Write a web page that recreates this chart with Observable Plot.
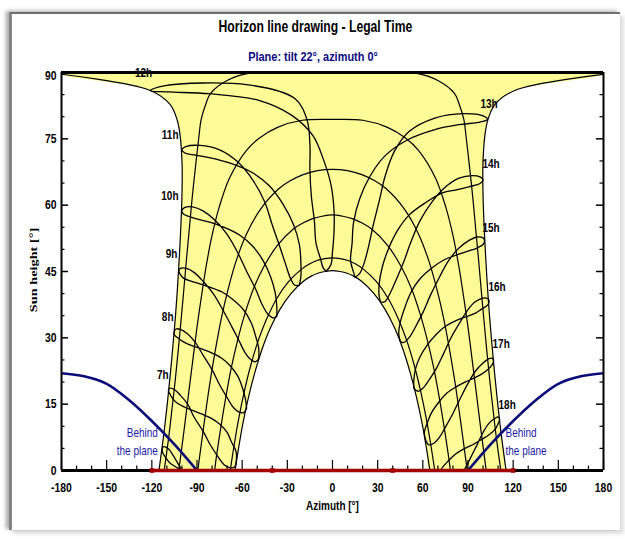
<!DOCTYPE html>
<html><head><meta charset="utf-8">
<script src="https://cdn.jsdelivr.net/npm/d3@7"></script>
<script src="https://cdn.jsdelivr.net/npm/@observablehq/plot@0.6"></script>
<style>
html,body{margin:0;padding:0;background:#fff;}
body{position:relative;width:625px;height:539px;overflow:hidden;font-family:"Liberation Sans",Arial,sans-serif;}
#card{position:absolute;left:9px;top:12px;width:608px;height:516px;background:#fff;border-top:2px solid #707070;border-left:3px solid #858585;box-shadow:-3px -1px 4px rgba(0,0,0,.35),4px 4px 4px rgba(0,0,0,.12);}
#chart{position:absolute;left:0;top:0;}
.ttl{position:absolute;left:0;text-align:center;font-weight:bold;white-space:nowrap;}
.ttl span{display:inline-block;}
#title{width:631px;top:17px;font-size:16px;line-height:20px;color:#000;}
#title span{transform:scaleX(0.76);}
#subtitle{width:626px;top:49px;font-size:13.5px;line-height:16px;color:#0a0a80;}
#subtitle span{transform:scaleX(0.81);}
#ylab{position:absolute;left:-27px;top:263px;width:120px;height:14px;line-height:14px;text-align:center;font-family:"Liberation Serif","DejaVu Serif",serif;font-weight:bold;font-size:11px;color:#000;transform:rotate(-90deg) scaleX(1.3);}
</style></head>
<body>
<div id="card"></div>
<div id="chart"></div>
<div id="title" class="ttl"><span>Horizon line drawing - Legal Time</span></div>
<div id="subtitle" class="ttl"><span>Plane: tilt 22°, azimuth 0°</span></div>
<div id="ylab">Sun height [°]</div>
<script>
// ---------- axes ----------
const azDomain = [-180, 180];
const altDomain = [0, 90];
const xTicks = [-180, -150, -120, -90, -60, -30, 0, 30, 60, 90, 120, 150, 180];
const xMinorTicks = [-170,-160,-140,-130,-110,-100,-80,-70,-50,-40,-20,-10,10,20,40,50,70,80,100,110,130,140,160,170];
const yTicks = [0, 15, 30, 45, 60, 75, 90];
const yMinorTicks = [5,10,20,25,35,40,50,55,65,70,80,85];

// ---------- date curves (sun paths), [azimuth, height] ----------
const dateJunAm = [[-115.3,0.0],[-114.5,1.9],[-112.0,8.4],[-109.8,14.9],[-107.8,21.5],[-106.0,28.2],[-104.3,34.9],[-102.9,41.7],[-101.7,48.5],[-100.7,55.4],[-100.0,62.2],[-99.9,69.1],[-101.3,76.0],[-103.3,79.4],[-107.9,82.8],[-121.4,86.0],[-180,89.6]];
const dateJunPm = [[180,89.6],[121.4,86.0],[107.9,82.8],[103.3,79.4],[101.3,76.0],[99.9,69.1],[100.0,62.2],[100.7,55.4],[101.7,48.5],[102.9,41.7],[104.3,34.9],[106.0,28.2],[107.8,21.5],[109.8,14.9],[112.0,8.4],[114.5,1.9],[115.3,0.0]];
const dateMay = [[-111.8,0.0],[-108.9,7.2],[-106.6,13.9],[-104.4,20.6],[-102.4,27.4],[-100.5,34.3],[-98.7,41.1],[-96.9,48.1],[-95.0,55.0],[-93.1,62.0],[-90.9,69.0],[-88.6,75.9],[-87.3,79.3],[-84.0,83.0],[-81.0,85.3],[-70.0,88.2],[-56.0,89.8],[0,90.0],[56.0,89.8],[70.0,88.2],[81.0,85.3],[84.0,83.0],[87.3,79.3],[88.6,75.9],[90.9,69.0],[93.1,62.0],[95.0,55.0],[96.9,48.1],[98.7,41.1],[100.5,34.3],[102.4,27.4],[104.4,20.6],[106.6,13.9],[108.9,7.2],[111.8,0.0]];
const dateApr = [[-102.1,0.0],[-100.5,4.1],[-97.9,11.0],[-95.4,17.9],[-92.8,24.9],[-90.2,31.9],[-87.3,38.8],[-84.1,45.8],[-80.3,52.7],[-75.3,59.5],[-68.3,66.2],[-57.1,72.4],[-48.5,75.2],[-36.5,77.6],[-20.1,79.2],[0,79.4],[20.1,79.2],[36.5,77.6],[48.5,75.2],[57.1,72.4],[68.3,66.2],[75.3,59.5],[80.3,52.7],[84.1,45.8],[87.3,38.8],[90.2,31.9],[92.8,24.9],[95.4,17.9],[97.9,11.0],[100.5,4.1],[102.1,0.0]];
const dateMar = [[-89.5,0.0],[-86.8,6.8],[-84.0,13.8],[-81.0,20.7],[-77.6,27.6],[-73.9,34.3],[-69.4,40.9],[-64.0,47.4],[-57.1,53.5],[-48.0,59.0],[-35.7,63.7],[-28.1,65.5],[-19.5,66.9],[-10.0,67.8],[0,68.1],[10.0,67.8],[19.5,66.9],[28.1,65.5],[35.7,63.7],[48.0,59.0],[57.1,53.5],[64.0,47.4],[69.4,40.9],[73.9,34.3],[77.6,27.6],[81.0,20.7],[84.0,13.8],[86.8,6.8],[89.5,0.0]];
const dateFeb = [[-78.3,0.0],[-77.2,2.9],[-74.2,9.7],[-71.0,16.3],[-67.4,22.9],[-63.2,29.2],[-58.3,35.3],[-52.5,41.1],[-45.3,46.3],[-36.6,50.9],[-26.0,54.6],[-20.0,55.9],[-13.6,56.9],[-6.9,57.5],[0,57.8],[6.9,57.5],[13.6,56.9],[20.0,55.9],[26.0,54.6],[36.6,50.9],[45.3,46.3],[52.5,41.1],[58.3,35.3],[63.2,29.2],[67.4,22.9],[71.0,16.3],[74.2,9.7],[77.2,2.9],[78.3,0.0]];
const dateJan = [[-67.9,0.0],[-65.4,5.6],[-62.2,11.9],[-58.5,18.0],[-54.3,23.8],[-49.4,29.3],[-43.7,34.3],[-37.0,38.9],[-29.2,42.7],[-20.3,45.6],[-15.4,46.7],[-10.4,47.5],[-5.2,47.9],[0,48.1],[5.2,47.9],[10.4,47.5],[15.4,46.7],[20.3,45.6],[29.2,42.7],[37.0,38.9],[43.7,34.3],[49.4,29.3],[54.3,23.8],[58.5,18.0],[62.2,11.9],[65.4,5.6],[67.9,0.0]];
const dateDec = [[-64.7,0.0],[-62.7,4.4],[-59.6,10.5],[-55.9,16.4],[-51.7,22.0],[-46.9,27.3],[-41.3,32.2],[-34.8,36.5],[-27.3,40.1],[-18.9,42.9],[-14.4,43.9],[-9.7,44.6],[-4.9,45.0],[0,45.2],[4.9,45.0],[9.7,44.6],[14.4,43.9],[18.9,42.9],[27.3,40.1],[34.8,36.5],[41.3,32.2],[46.9,27.3],[51.7,22.0],[55.9,16.4],[59.6,10.5],[62.7,4.4],[64.7,0.0]];

// ---------- hour lines (legal time), one point per half month from 21 Dec ----------
const hour6 = [[-87,-8.1],[-92,-5.1],[-97,-1.8],[-102,1.2],[-106,3.5],[-109,4.9],[-112,5.4],[-113,5.1],[-113,4.2],[-111,3.0],[-108,1.7],[-103,0.6],[-98,-0.3],[-92,-1.1],[-86,-2.0],[-81,-3.2],[-76,-4.8],[-72,-6.7],[-70,-8.7]];
const hour7 = [[-64,1.9],[-65,0.8],[-68,0.6],[-72,1.3],[-76,3.1],[-81,5.7],[-86,8.9],[-92,12.1],[-96,14.9],[-101,17.0],[-105,18.3],[-108,18.6],[-109,18.1],[-108,17.3],[-106,16.2],[-103,15.2],[-98,14.3],[-93,13.6],[-87,12.8],[-81,11.9],[-75,10.5],[-70,8.6],[-67,6.4],[-64,4.2],[-64,1.9]];
const hour8 = [[-57,14.1],[-59,13.1],[-62,13.2],[-66,14.3],[-70,16.5],[-75,19.4],[-80,22.8],[-86,26.1],[-91,28.9],[-96,30.8],[-101,31.9],[-104,32.0],[-105,31.5],[-105,30.7],[-102,29.8],[-98,28.9],[-93,28.2],[-87,27.5],[-81,26.7],[-74,25.5],[-68,23.7],[-63,21.4],[-60,18.9],[-58,16.4],[-57,14.1]];
const hour9 = [[-49,25.3],[-51,24.6],[-54,25.0],[-58,26.6],[-62,29.3],[-67,32.6],[-73,36.4],[-79,39.9],[-86,42.8],[-92,44.8],[-97,45.7],[-101,45.7],[-102,45.1],[-101,44.3],[-99,43.5],[-94,42.8],[-88,42.2],[-81,41.4],[-73,40.3],[-66,38.6],[-59,36.3],[-54,33.4],[-51,30.3],[-49,27.6],[-49,25.3]];
const hour10 = [[-37,34.9],[-39,34.5],[-43,35.4],[-47,37.7],[-51,41.0],[-57,45.0],[-63,49.3],[-70,53.4],[-78,56.6],[-86,58.7],[-93,59.6],[-98,59.5],[-100,58.8],[-99,58.0],[-95,57.4],[-89,56.8],[-81,56.1],[-72,55.0],[-62,53.3],[-53,50.7],[-46,47.4],[-41,43.7],[-38,40.1],[-37,37.1],[-37,34.9]];
const hour11 = [[-22,41.9],[-25,41.9],[-28,43.5],[-31,46.5],[-35,50.6],[-40,55.5],[-45,60.7],[-53,65.7],[-63,69.8],[-75,72.5],[-88,73.5],[-97,73.3],[-100,72.5],[-98,71.8],[-91,71.3],[-81,70.7],[-68,69.5],[-54,67.5],[-42,64.4],[-33,60.3],[-26,55.7],[-22,51.1],[-21,47.0],[-21,43.9],[-22,41.9]];
const hour12 = [[-4,45.1],[-6,45.7],[-8,47.9],[-11,51.5],[-12,56.3],[-14,61.9],[-15,67.9],[-15,73.8],[-17,79.4],[-25,84.1],[-56,87.2],[-112,87.0],[-121,85.9],[-109,85.6],[-82,85.2],[-49,83.7],[-27,80.3],[-13,75.7],[-6,70.3],[-1,64.6],[1,58.9],[1,53.8],[0,49.5],[-1,46.6],[-4,45.1]];
const hour13 = [[15,43.7],[14,44.8],[12,47.4],[13,51.3],[14,56.1],[18,61.4],[25,66.6],[35,71.2],[50,74.8],[68,77.1],[84,78.2],[98,78.8],[103,79.4],[100,80.2],[87,80.7],[68,79.7],[51,76.7],[41,72.1],[35,66.6],[31,60.9],[27,55.4],[24,50.7],[21,46.9],[18,44.5],[15,43.7]];
const hour14 = [[32,38.0],[31,39.4],[31,42.2],[33,45.9],[37,50.0],[43,54.2],[51,57.8],[62,60.6],[73,62.8],[83,63.5],[91,64.2],[98,64.9],[100,65.7],[98,66.4],[93,66.7],[84,66.1],[75,64.1],[66,60.7],[58,56.4],[52,51.6],[47,46.9],[42,42.9],[38,39.9],[35,38.2],[32,38.0]];
const hour15 = [[45,29.3],[44,30.9],[45,33.5],[48,36.8],[52,40.2],[58,43.3],[66,45.8],[74,47.6],[83,48.8],[90,49.6],[96,50.3],[100,51.1],[101,52.0],[100,52.6],[96,52.8],[91,52.1],[84,50.3],[77,47.4],[71,43.7],[65,39.6],[60,35.7],[55,32.4],[51,30.1],[47,28.9],[45,29.3]];
const hour16 = [[54,18.6],[54,20.3],[55,22.8],[58,25.6],[63,28.4],[69,30.8],[75,32.6],[82,33.9],[89,34.8],[95,35.6],[99,36.5],[103,37.4],[104,38.3],[103,38.9],[100,39.0],[95,38.2],[90,36.4],[85,33.7],[79,30.2],[74,26.6],[69,23.1],[64,20.4],[60,18.6],[57,17.9],[54,18.6]];
const hour17 = [[62,6.8],[61,8.5],[63,10.8],[66,13.2],[71,15.6],[76,17.5],[82,18.9],[88,20.0],[94,20.9],[99,21.8],[103,22.8],[106,23.9],[107,24.8],[106,25.4],[104,25.3],[100,24.3],[95,22.5],[90,19.7],[85,16.4],[80,12.9],[75,9.8],[71,7.5],[67,6.1],[64,5.8],[62,6.8]];
const hour18 = [[67,-5.8],[67,-4.1],[69,-2.0],[72,0.2],[77,2.2],[82,3.8],[88,5.0],[94,6.0],[99,7.0],[104,8.1],[108,9.3],[110,10.6],[111,11.6],[110,12.1],[108,11.8],[104,10.7],[100,8.6],[96,5.8],[91,2.4],[86,-0.9],[81,-3.8],[76,-5.9],[72,-7.0],[69,-7.0],[67,-5.8]];

// ---------- hour labels ----------
const hourLabelText = ["12h","11h","10h","9h","8h","7h","13h","14h","15h","16h","17h","18h"];
const hourLabelAz   = [-125.5,-102.3,-102.3,-103.0,-105.6,-108.9, 98.3, 99.6, 99.6,103.6,106.3,110.3];
const hourLabelAlt  = [89.8, 75.8, 62.0, 48.9, 34.8, 21.7, 82.8, 69.3, 54.9, 41.4, 28.5, 14.9];
const hourLabelSide = ["middle","end","end","end","end","end","start","start","start","start","start","start"];

// ---------- limit of the plane (behind the plane) ----------
const behindLeft  = [[-180,22.0],[-165,21.3],[-150,19.6],[-135,15.9],[-120,11.2],[-105,5.9],[-90,0.0]];
const behindRight = [[90,0.0],[105,5.9],[120,11.2],[135,15.9],[150,19.6],[165,21.3],[180,22.0]];
const behindLabelAz = [-116.0, 114.9];
const behindLabelAlt = [6.8, 6.8];

// ---------- horizon line ----------
const horizonAz  = [-120, -40, 40, 120];
const horizonAlt = [0, 0, 0, 0];

// ================= build =================
const W = 625, H = 539, mL = 61, mR = 22, mT = 72, mB = 69;
const degPerPxX = (azDomain[1]-azDomain[0])/(W-mL-mR);
const degPerPxY = (altDomain[1]-altDomain[0])/(H-mT-mB);
const rows = (arr, id) => arr.map(([az, alt]) => ({az, alt, id}));

const dateSets = {dateJunAm, dateJunPm, dateMay, dateApr, dateMar, dateFeb, dateJan, dateDec};
const dateRows = Object.entries(dateSets).flatMap(([k, a]) => rows(a, k));
const hourSets = {hour6, hour7, hour8, hour9, hour10, hour11, hour12, hour13, hour14, hour15, hour16, hour17, hour18};
const hourRows = Object.entries(hourSets).flatMap(([k, a]) => rows(a, k));
const fillRows = rows([...dateJunAm, [azDomain[0], altDomain[1]], [azDomain[1], altDomain[1]], ...dateJunPm, ...dateDec.slice().reverse()], "fill");
const behindRows = [...rows(behindLeft, "L"), ...rows(behindRight, "R")];
const horizonRows = horizonAz.map((az, i) => ({az, alt: horizonAlt[i]}));
const hourLabels = hourLabelText.map((t, i) => ({t, az: hourLabelAz[i], alt: hourLabelAlt[i], a: hourLabelSide[i]}));

const font = '"Liberation Sans",Arial,sans-serif';
const majX = 10*degPerPxY, minX = 4.5*degPerPxY, majY = 7*degPerPxX, minY = 3.5*degPerPxX;
const txt = {fontWeight: "bold", fill: "#000", fontSize: 13};

const chart = Plot.plot({
  width: W, height: H, marginLeft: mL, marginRight: mR, marginTop: mT, marginBottom: mB,
  x: {domain: azDomain, axis: null},
  y: {domain: altDomain, axis: null},
  style: {background: "transparent", fontFamily: font, overflow: "visible", color: "#000"},
  marks: [
    Plot.line(fillRows, {x: "az", y: "alt", fill: "#fdfa98", stroke: "none", curve: "catmull-rom", clip: true}),
    Plot.line(dateRows, {x: "az", y: "alt", z: "id", stroke: "#000", strokeWidth: 1.2, curve: "catmull-rom", clip: true}),
    Plot.line(hourRows, {x: "az", y: "alt", z: "id", stroke: "#000", strokeWidth: 1.3, curve: "catmull-rom", clip: true}),
    Plot.line(behindRows, {x: "az", y: "alt", z: "id", stroke: "#0b0b7a", strokeWidth: 2.6, curve: "catmull-rom", clip: true}),
    // frame
    Plot.ruleX(azDomain, {stroke: "#000", strokeWidth: 2}),
    Plot.ruleY(altDomain, {stroke: "#000", strokeWidth: 3}),
    // inward ticks
    Plot.ruleX(xTicks, {x: d => d, y1: altDomain[0], y2: altDomain[0] + majX, stroke: "#000", strokeWidth: 1.2}),
    Plot.ruleX(xMinorTicks, {x: d => d, y1: altDomain[0], y2: altDomain[0] + minX, stroke: "#000", strokeWidth: 1.2}),
    Plot.ruleY(yTicks, {y: d => d, x1: azDomain[0], x2: azDomain[0] + majY, stroke: "#000", strokeWidth: 1.5}),
    Plot.ruleY(yMinorTicks, {y: d => d, x1: azDomain[0], x2: azDomain[0] + minY, stroke: "#000", strokeWidth: 1.2}),
    Plot.ruleY(yTicks, {y: d => d, x1: azDomain[1] - majY, x2: azDomain[1], stroke: "#000", strokeWidth: 1.5}),
    Plot.ruleY(yMinorTicks, {y: d => d, x1: azDomain[1] - minY, x2: azDomain[1], stroke: "#000", strokeWidth: 1.2}),
    // horizon line
    Plot.line(horizonRows, {x: "az", y: "alt", stroke: "#a50000", strokeWidth: 3.5}),
    Plot.dot(horizonRows, {x: "az", y: "alt", symbol: "square", r: 2.6, fill: "#a50000", stroke: "none"}),
    // tick labels
    Plot.text(xTicks, {...txt, x: d => d, y: altDomain[0], dy: 17, text: d => String(d)}),
    Plot.text(yTicks.filter(d => d < altDomain[1]), {...txt, x: azDomain[0], y: d => d, dx: -5, textAnchor: "end", text: d => String(d)}),
    Plot.text(yTicks.filter(d => d === altDomain[1]), {...txt, x: azDomain[0], y: d => d, dx: -5, dy: 3.5, textAnchor: "end", text: d => String(d)}),
    // axis title
    Plot.text(["Azimuth [°]"], {...txt, frameAnchor: "bottom", dy: 39, text: d => d, fontSize: 12.5}),
    // hour labels
    Plot.text(hourLabels.filter(d => d.a === "end"), {...txt, x: "az", y: "alt", text: "t", textAnchor: "end", fontSize: 12.5}),
    Plot.text(hourLabels.filter(d => d.a === "start"), {...txt, x: "az", y: "alt", text: "t", textAnchor: "start", fontSize: 12.5}),
    Plot.text(hourLabels.filter(d => d.a === "middle"), {...txt, x: "az", y: "alt", text: "t", textAnchor: "middle", fontSize: 12.5}),
    // behind the plane
    Plot.text([0], {x: behindLabelAz[0], y: behindLabelAlt[0], text: () => "Behind\nthe plane", textAnchor: "end", lineHeight: 1.45, fontSize: 12.5, fill: "#1c1ca8"}),
    Plot.text([1], {x: behindLabelAz[1], y: behindLabelAlt[1], text: () => "Behind\nthe plane", textAnchor: "start", lineHeight: 1.45, fontSize: 12.5, fill: "#1c1ca8"})
  ]
});
// narrow lettering (condensed look of the original)
chart.querySelectorAll("text").forEach(t => {
  const tr = t.getAttribute("transform");
  if (tr) t.setAttribute("transform", tr + " scale(0.8,1)");
  else {
    const x = +t.getAttribute("x") || 0, y = +t.getAttribute("y") || 0;
    t.removeAttribute("x"); t.removeAttribute("y");
    t.setAttribute("transform", `translate(${x},${y}) scale(0.8,1)`);
  }
});
document.getElementById("chart").appendChild(chart);
</script>
</body></html>
